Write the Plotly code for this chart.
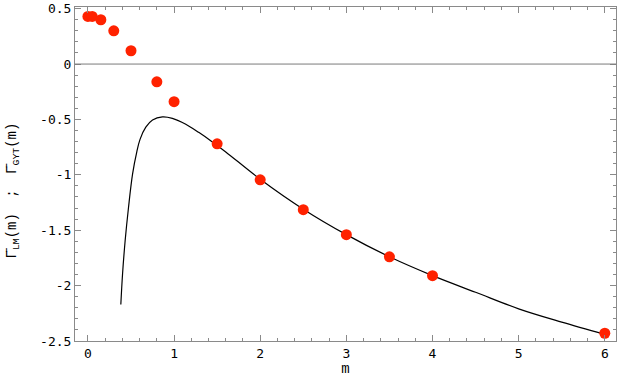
import plotly.graph_objects as go

# red points (Γ̄_GYT)
M_PTS = [0.0, 0.05, 0.15, 0.3, 0.5, 0.8, 1.0, 1.5, 2.0, 2.5, 3.0, 3.5, 4.0, 6.0]
G_PTS = [0.43, 0.43, 0.40, 0.30, 0.12, -0.16, -0.34, -0.72, -1.045, -1.315, -1.54, -1.74, -1.91, -2.43]

# black curve (Γ̄_LM)
M_CURVE = [0.382, 0.402, 0.432, 0.471, 0.518, 0.568, 0.605, 0.672, 0.75, 0.865, 0.98, 1.136,
           1.29, 1.445, 1.6, 2.0, 2.5, 3.0, 3.5, 4.0, 4.5, 5.0, 5.5, 6.0]
G_CURVE = [-2.17, -1.895, -1.595, -1.295, -0.994, -0.79, -0.68, -0.57, -0.505, -0.477, -0.49, -0.543,
           -0.619, -0.703, -0.793, -1.04, -1.31, -1.54, -1.74, -1.91, -2.06, -2.21, -2.33, -2.44]

X_TICKS = [0, 1, 2, 3, 4, 5, 6]
Y_TICKS = [0.5, 0, -0.5, -1, -1.5, -2, -2.5]
Y_TEXT = ["0.5", "0", "-0.5", "-1", "-1.5", "-2", "-2.5"]

FRAME = "#8a8a8a"
MONO = "Liberation Mono, Courier New, monospace"
Y_LABEL = ("Γ\u0304<sub>LM</sub>(m)\u2002 ;\u2002 Γ\u0304<sub>GYT</sub>(m)")

fig = go.Figure()
fig.add_hline(y=0, line=dict(color="#7a7a7a", width=1))
fig.add_trace(go.Scatter(
    x=M_CURVE, y=G_CURVE, mode="lines",
    line=dict(color="black", width=1.2, shape="spline", smoothing=1.0),
    showlegend=False,
))
fig.add_trace(go.Scatter(
    x=M_PTS, y=G_PTS, mode="markers",
    marker=dict(color="#ff2200", size=11),
    showlegend=False,
))

axis_common = dict(
    showgrid=False, zeroline=False, showline=True, linecolor=FRAME, linewidth=1,
    mirror="ticks", ticks="inside", ticklen=6, tickcolor=FRAME, automargin=False,
    tickfont=dict(family="DejaVu Sans Mono", size=13, color="black"),
)
fig.update_xaxes(
    **axis_common, range=[-0.15, 6.13], tickvals=X_TICKS,
    minor=dict(ticks="inside", dtick=0.2, ticklen=3, tickcolor=FRAME),
    title=dict(text="m", font=dict(family=MONO, size=14, color="black"), standoff=2),
)
fig.update_yaxes(
    **axis_common, range=[-2.5, 0.515], tickvals=Y_TICKS, ticktext=Y_TEXT,
    ticklabeloverflow="allow",
    minor=dict(ticks="inside", dtick=0.1, ticklen=3, tickcolor=FRAME),
)
# y title as an annotation so it sits where the reference has it
fig.add_annotation(
    text=Y_LABEL, textangle=-90, showarrow=False,
    xref="paper", yref="paper", x=-0.115, y=0.45, xanchor="center", yanchor="middle",
    font=dict(family=MONO, size=14, color="black"),
)
fig.update_layout(
    width=623, height=385, plot_bgcolor="white", paper_bgcolor="white",
    margin=dict(l=75, r=7, t=7, b=44),
)
# page body has a default 8px margin; drop it so the figure fills the window
fig.write_html("out.html", config={"displayModeBar": False},
               post_script="document.body.style.margin='0';")
